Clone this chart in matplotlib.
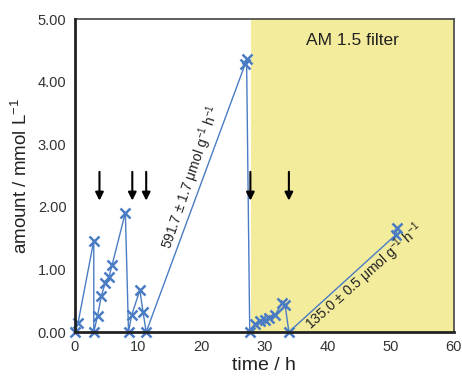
import matplotlib.pyplot as plt

plt.rcParams['font.family'] = ['Liberation Sans', 'DejaVu Sans']

# evolved amount vs time
time_h = [0.0, 0.5, 3.0, 3.0, 3.6, 4.2, 4.8, 5.4, 5.9, 8.0, 8.5, 9.0, 10.3, 10.8, 11.3,
          27.0, 27.2, 27.7, 28.6, 29.4, 30.1, 30.7, 31.7, 32.8, 33.3, 33.9, 50.8, 51.1]
amount = [0.00, 0.14, 1.46, 0.00, 0.26, 0.58, 0.78, 0.88, 1.07, 1.91, 0.00, 0.27, 0.67, 0.32, 0.00,
          4.29, 4.36, 0.00, 0.13, 0.17, 0.19, 0.22, 0.27, 0.46, 0.43, 0.00, 1.55, 1.66]

arrow_t = [3.9, 9.1, 11.3, 27.8, 33.9]
filter_start = 27.9

fig = plt.figure(figsize=(4.62, 3.76), dpi=100)
ax = fig.add_axes([0.162, 0.117, 0.820, 0.832])

ax.axvspan(filter_start, 60, color='#f3ec9c', zorder=0, lw=0)
ax.plot(time_h, amount, color='#4a7cc4', lw=1.0, marker='x', ms=7, mew=1.8, zorder=3,
        clip_on=False)

for t in arrow_t:
    ax.annotate('', xy=(t, 2.10), xytext=(t, 2.56),
                arrowprops=dict(arrowstyle='-|>', color='black', lw=1.5,
                                mutation_scale=12, shrinkA=0, shrinkB=0))

sup = r'$\mathregular{^{-1}}$'
ax.text(18.4, 2.48, '591.7 ± 1.7 μmol g' + sup + ' h' + sup, rotation=71,
        ha='center', va='center', fontsize=10, color='#222222')
ax.text(45.9, 0.88, '135.0 ± 0.5 μmol g' + sup + ' h' + sup, rotation=41.5,
        ha='center', va='center', fontsize=10, color='#222222')
ax.text(43.9, 4.66, 'AM 1.5 filter', ha='center', va='center', fontsize=12.5,
        color='#222222')

ax.set_xlim(0, 60)
ax.set_ylim(0, 5)
ax.set_xticks([0, 10, 20, 30, 40, 50, 60])
ax.set_yticks([0, 1, 2, 3, 4, 5])
ax.set_yticklabels(['0.00', '1.00', '2.00', '3.00', '4.00', '5.00'])
ax.tick_params(length=0, labelsize=10.5, colors='#333333', pad=6)
ax.set_xlabel('time / h', fontsize=14, color='#222222', labelpad=2)
ax.set_ylabel('amount / mmol L' + sup, fontsize=13.5, color='#222222', labelpad=5)

for s in ['left', 'bottom']:
    ax.spines[s].set_linewidth(2.0)
    ax.spines[s].set_color('#222222')
    ax.spines[s].set_zorder(4)
for s in ['top', 'right']:
    ax.spines[s].set_linewidth(1.2)
    ax.spines[s].set_color('#444444')

fig.savefig('out.png', dpi=100)
